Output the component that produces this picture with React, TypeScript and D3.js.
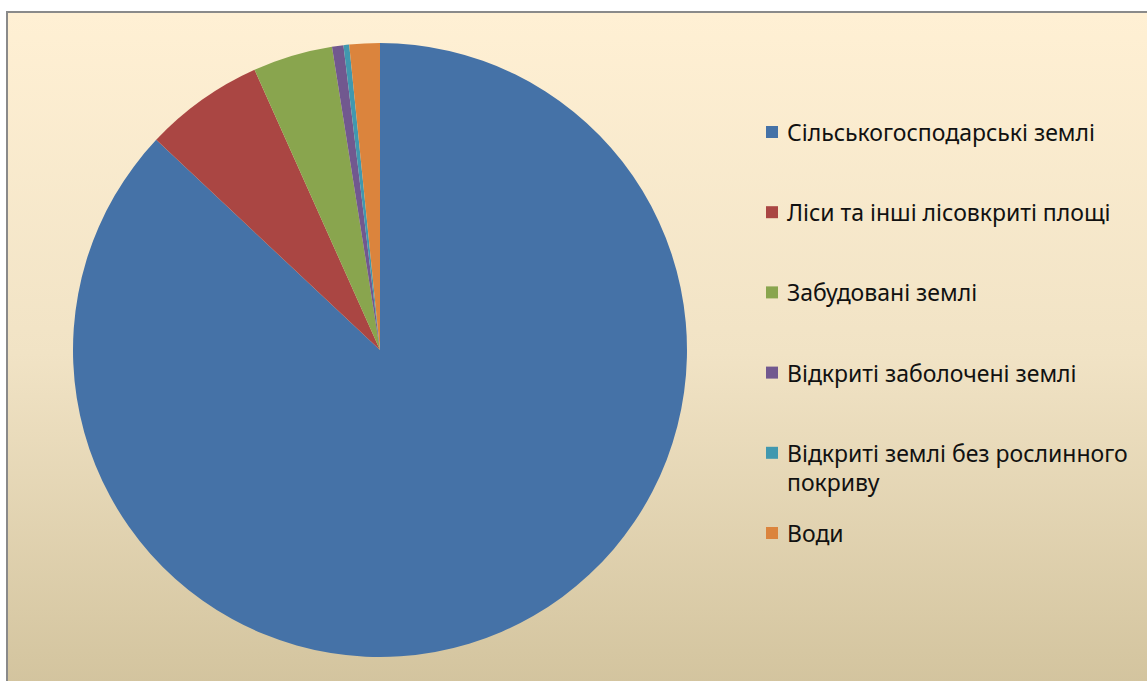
import React from "react";
import * as d3 from "d3";

const categories = [
  "Сільськогосподарські землі",
  "Ліси та інші лісовкриті площі",
  "Забудовані землі",
  "Відкриті заболочені землі",
  "Відкриті землі без рослинного покриву",
  "Води",
];
const values = [87.0, 6.3, 4.2, 0.6, 0.3, 1.6];
const colors = ["#4572A7", "#AA4643", "#89A54E", "#71588F", "#4198AF", "#DB843D"];

const W = 1147;
const H = 681;
const FONT = "'Noto Sans', 'Open Sans', sans-serif";
const FS = 23;

function wrap(text: string, maxW: number): string[] {
  const c = document.createElement("canvas").getContext("2d")!;
  c.font = `${FS}px ${FONT}`;
  const words = text.split(" ");
  const lines: string[] = [];
  let cur = "";
  for (const w of words) {
    const t = cur ? cur + " " + w : w;
    if (c.measureText(t).width > maxW && cur) {
      lines.push(cur);
      cur = w;
    } else cur = t;
  }
  if (cur) lines.push(cur);
  return lines;
}

export default function App() {
  const cx = 380, cy = 350, r = 307;
  const pie = d3.pie<number>().sort(null).value((d) => d)(values);
  const arc = d3.arc<d3.PieArcDatum<number>>().innerRadius(0).outerRadius(r);

  const legendX = 766;
  const y0 = 141;
  const step = 80.2;

  return (
    <svg width={W} height={H} style={{ position: "absolute", left: 0, top: 0 }}>
      <defs>
        <linearGradient id="bg" x1="0" y1="0" x2="0" y2="1">
          <stop offset="0" stopColor="#FFF0D4" />
          <stop offset="0.5" stopColor="#F1E3C5" />
          <stop offset="1" stopColor="#D2C39D" />
        </linearGradient>
      </defs>
      <rect x={0} y={0} width={W} height={H} fill="#fff" />
      <rect x={8} y={13} width={W + 10} height={H} fill="url(#bg)" />
      <line x1={7} y1={12} x2={W} y2={12} stroke="#8A8A8A" strokeWidth={2} />
      <line x1={7} y1={11} x2={7} y2={H} stroke="#8A8A8A" strokeWidth={2} />
      <g transform={`translate(${cx},${cy})`}>
        {pie.map((p, i) => (
          <path key={i} d={arc(p) || ""} fill={colors[i]} />
        ))}
      </g>
      {categories.map((c, i) => {
        const lines = wrap(c, 360);
        const by = y0 + i * step;
        return (
          <g key={i}>
            <rect x={legendX} y={by - 15} width={12} height={12} fill={colors[i]} />
            <text x={legendX + 21} y={by} fontFamily={FONT} fontSize={FS} fill="#111">
              {lines.map((l, j) => (
                <tspan key={j} x={legendX + 21} dy={j === 0 ? 0 : 29}>
                  {l}
                </tspan>
              ))}
            </text>
          </g>
        );
      })}
    </svg>
  );
}
